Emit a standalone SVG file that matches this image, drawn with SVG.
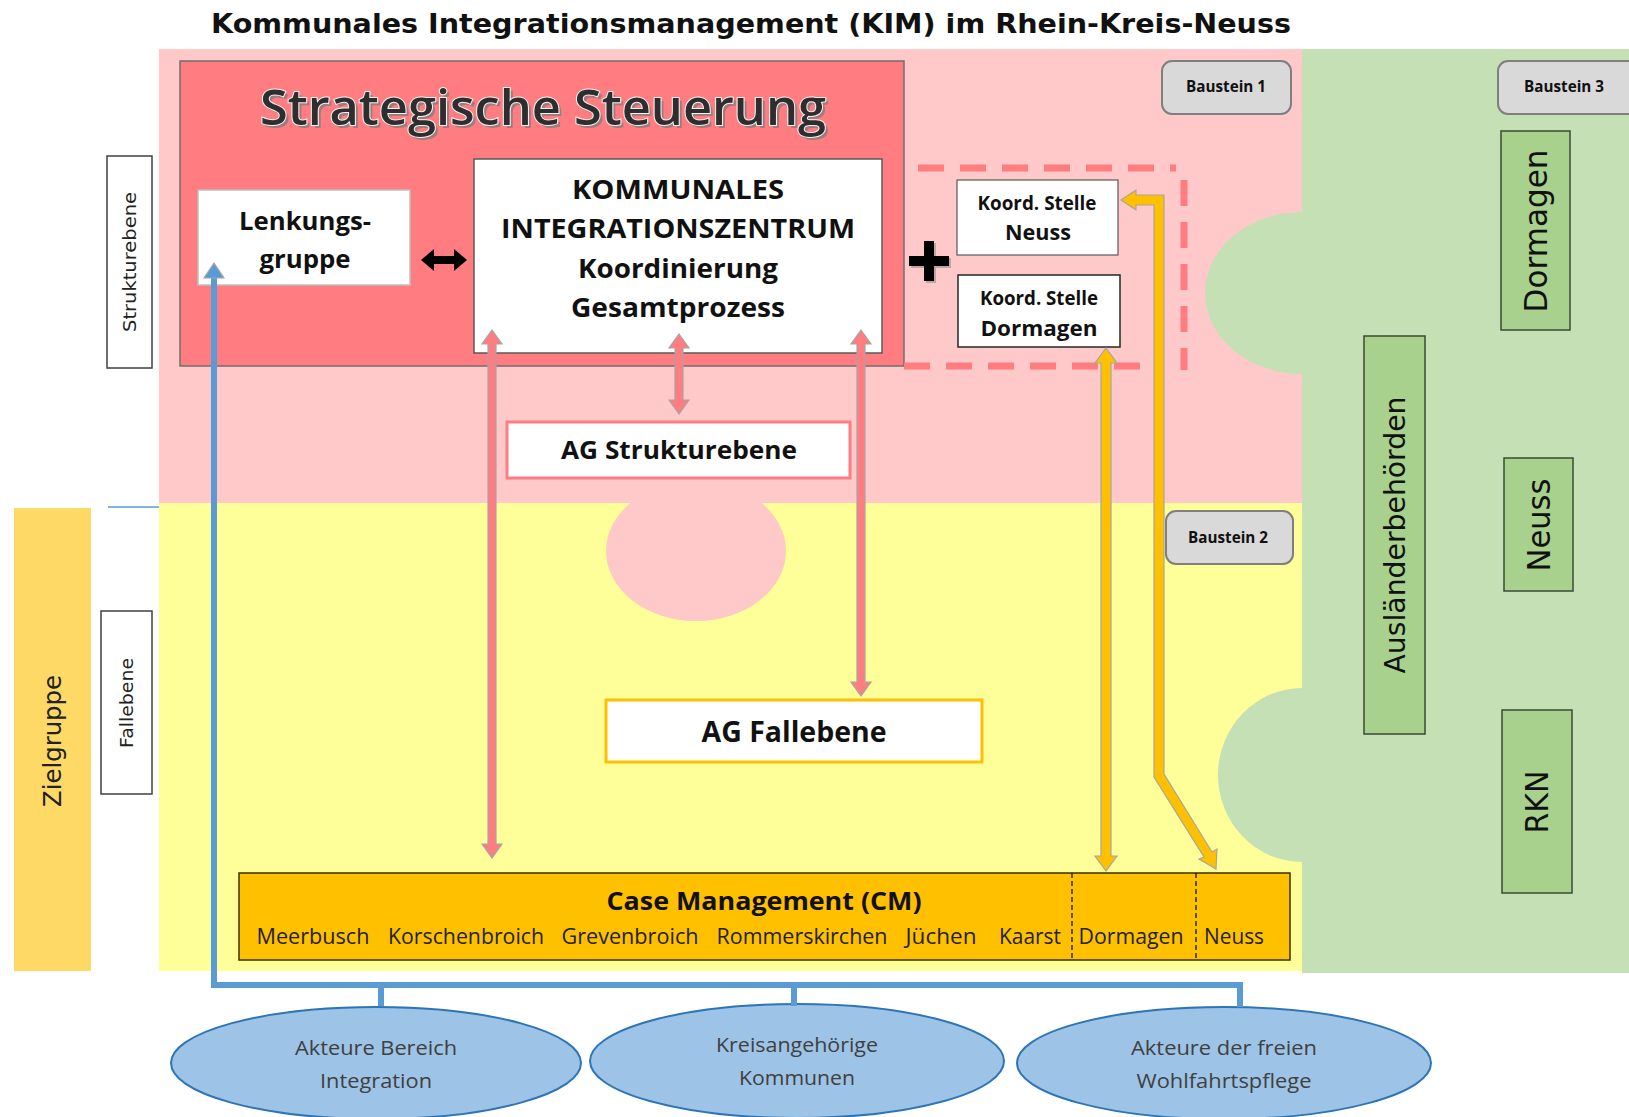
<svg xmlns="http://www.w3.org/2000/svg" width="1629" height="1117" viewBox="0 0 1629 1117">
  <style>
    .sans { font-family: "Open Sans", "Noto Sans", "Liberation Sans", sans-serif; }
    .verd { font-family: "DejaVu Sans", "Liberation Sans", sans-serif; }
    .bold { font-weight: 700; }
    .dark { fill: #111; }
    .baustein rect { fill: #d9d9d9; stroke: #7f7f7f; stroke-width: 2; }
    .baustein text { font-family: "Open Sans", "Noto Sans", sans-serif; font-weight: 700; font-size: 16px; fill: #111; }
    .gbox rect { fill: #a9d18e; stroke: #3b4a33; stroke-width: 1.5; }
    .gbox text { font-family: "DejaVu Sans", sans-serif; fill: #111; }
    .pinkarrow { fill: #ff7c80; stroke: #a6a6a6; stroke-width: 1.2; }
    .yellowarrow { fill: #ffc000; stroke: #a6a6a6; stroke-width: 1.2; }
    .actor ellipse { fill: #9dc3e6; stroke: #2e75b6; stroke-width: 2; }
    .actor text { font-family: "Open Sans", "Noto Sans", sans-serif; font-size: 20px; fill: #404040; }
    .town { font-family: "Open Sans", "Noto Sans", sans-serif; font-size: 21px; fill: #222; }
  </style>

  <rect width="1629" height="1117" fill="#ffffff"/>

  <!-- Title -->
  <text x="751" y="33" text-anchor="middle" class="verd bold dark" font-size="27" textLength="1080" lengthAdjust="spacingAndGlyphs">Kommunales Integrationsmanagement (KIM) im Rhein-Kreis-Neuss</text>

  <!-- Background bands: Baustein 1 (pink), Baustein 2 (yellow), Baustein 3 (green) -->
  <g id="bands">
    <rect x="159" y="49" width="1143" height="455" fill="#ffc9c9"/>
    <rect x="159" y="503" width="1143" height="468" fill="#ffff99"/>
    <rect x="1302" y="49" width="327" height="924" fill="#c5e0b4"/>
    <ellipse cx="1302" cy="293" rx="97" ry="81" fill="#c5e0b4"/>
    <ellipse cx="1302" cy="775" rx="84" ry="87" fill="#c5e0b4"/>
    <ellipse cx="696" cy="551" rx="90" ry="70" fill="#ffc9c9"/>
    <line x1="108" y1="507" x2="159" y2="507" stroke="#5b9bd5" stroke-width="1.5"/>
  </g>

  <!-- Side labels -->
  <g id="strukturebene">
    <rect x="107" y="156" width="45" height="212" fill="#fff" stroke="#404040" stroke-width="1.5"/>
    <text transform="translate(129.5 262) rotate(-90)" y="6" text-anchor="middle" class="verd" font-size="18" fill="#222" textLength="140" lengthAdjust="spacingAndGlyphs">Strukturebene</text>
  </g>
  <g id="fallebene">
    <rect x="101" y="611" width="51" height="183" fill="#fff" stroke="#404040" stroke-width="1.5"/>
    <text transform="translate(126.5 703) rotate(-90)" y="6" text-anchor="middle" class="verd" font-size="18" fill="#222" textLength="90" lengthAdjust="spacingAndGlyphs">Fallebene</text>
  </g>
  <g id="zielgruppe">
    <rect x="14" y="508" width="77" height="463" fill="#ffd966"/>
    <text transform="translate(52.5 741) rotate(-90)" y="8" text-anchor="middle" class="verd" font-size="24" fill="#222" textLength="132" lengthAdjust="spacingAndGlyphs">Zielgruppe</text>
  </g>

  <!-- Strategische Steuerung -->
  <g id="strategische-steuerung">
    <rect x="180" y="61" width="724" height="305" fill="#ff7c80" stroke="#6f6f6f" stroke-width="1.5"/>
    <text x="546" y="128" text-anchor="middle" class="sans" font-size="48" font-weight="600" fill="#7a7a7a" opacity="0.7" textLength="566" lengthAdjust="spacingAndGlyphs">Strategische Steuerung</text>
    <text x="543" y="125" text-anchor="middle" class="sans" font-size="48" font-weight="600" fill="#2e2e2e" stroke="#f2f2f2" stroke-width="2" paint-order="stroke" textLength="566" lengthAdjust="spacingAndGlyphs">Strategische Steuerung</text>
  </g>

  <g id="lenkungsgruppe">
    <rect x="198" y="190" width="212" height="95" fill="#fff" stroke="#bfbfbf" stroke-width="1.5"/>
    <text x="305" y="230" text-anchor="middle" class="sans bold dark" font-size="25" textLength="132" lengthAdjust="spacingAndGlyphs">Lenkungs-</text>
    <text x="305" y="268" text-anchor="middle" class="sans bold dark" font-size="25" textLength="91" lengthAdjust="spacingAndGlyphs">gruppe</text>
  </g>

  <g id="integrationszentrum">
    <rect x="474" y="159" width="408" height="194" fill="#fff" stroke="#595959" stroke-width="1.5"/>
    <text x="678" y="199" text-anchor="middle" class="sans bold dark" font-size="27" textLength="212" lengthAdjust="spacingAndGlyphs">KOMMUNALES</text>
    <text x="678" y="238" text-anchor="middle" class="sans bold dark" font-size="27" textLength="354" lengthAdjust="spacingAndGlyphs">INTEGRATIONSZENTRUM</text>
    <text x="678" y="278" text-anchor="middle" class="sans bold dark" font-size="27" textLength="200" lengthAdjust="spacingAndGlyphs">Koordinierung</text>
    <text x="678" y="317" text-anchor="middle" class="sans bold dark" font-size="27" textLength="214" lengthAdjust="spacingAndGlyphs">Gesamtprozess</text>
  </g>

  <!-- Plus sign joining the coordination offices -->
  <g id="plus">
    <path d="M924 241 h10 v15 h15 v10 h-15 v15 h-10 v-15 h-15 v-10 h15 z" fill="#7f7f7f" opacity="0.5" transform="translate(2 2)"/>
    <path d="M924 241 h10 v15 h15 v10 h-15 v15 h-10 v-15 h-15 v-10 h15 z" fill="#000"/>
  </g>

  <!-- Dashed frame round the coordination offices -->
  <path id="koord-frame" d="M918 168 H1176 M1184 180 V370 M904 366 H1150" fill="none" stroke="#ff7c80" stroke-width="7" stroke-dasharray="26 16"/>

  <g id="koord-neuss">
    <rect x="957" y="180" width="161" height="75" fill="#fff" stroke="#595959" stroke-width="1.2"/>
    <text x="1037" y="210" text-anchor="middle" class="sans bold dark" font-size="19" textLength="119" lengthAdjust="spacingAndGlyphs">Koord. Stelle</text>
    <text x="1038" y="240" text-anchor="middle" class="sans bold dark" font-size="22" textLength="66" lengthAdjust="spacingAndGlyphs">Neuss</text>
  </g>
  <g id="koord-dormagen">
    <rect x="958" y="275" width="162" height="72" fill="#fff" stroke="#262626" stroke-width="1.5"/>
    <text x="1039" y="305" text-anchor="middle" class="sans bold dark" font-size="19" textLength="118" lengthAdjust="spacingAndGlyphs">Koord. Stelle</text>
    <text x="1039" y="336" text-anchor="middle" class="sans bold dark" font-size="22" textLength="117" lengthAdjust="spacingAndGlyphs">Dormagen</text>
  </g>

  <g id="baustein-1" class="baustein">
    <rect x="1162" y="61" width="129" height="53" rx="10"/>
    <text x="1226" y="92" text-anchor="middle" textLength="80" lengthAdjust="spacingAndGlyphs">Baustein 1</text>
  </g>
  <g id="baustein-2" class="baustein">
    <rect x="1166" y="511" width="127" height="53" rx="10"/>
    <text x="1228" y="543" text-anchor="middle" textLength="80" lengthAdjust="spacingAndGlyphs">Baustein 2</text>
  </g>
  <g id="baustein-3" class="baustein">
    <rect x="1498" y="61" width="140" height="53" rx="10"/>
    <text x="1564" y="92" text-anchor="middle" textLength="80" lengthAdjust="spacingAndGlyphs">Baustein 3</text>
  </g>

  <g id="ag-strukturebene">
    <rect x="507" y="422" width="343" height="56" fill="#fff" stroke="#ff7c80" stroke-width="3"/>
    <text x="679" y="459" text-anchor="middle" class="sans bold dark" font-size="25" textLength="236" lengthAdjust="spacingAndGlyphs">AG Strukturebene</text>
  </g>

  <g id="ag-fallebene">
    <rect x="606" y="700" width="376" height="62" fill="#fff" stroke="#ffc000" stroke-width="3"/>
    <text x="794" y="742" text-anchor="middle" class="sans bold dark" font-size="28" textLength="185" lengthAdjust="spacingAndGlyphs">AG Fallebene</text>
  </g>

  <g id="case-management">
    <rect x="239" y="873" width="1051" height="87" fill="#ffc000" stroke="#3a2f00" stroke-width="1.5"/>
    <line x1="1072" y1="873" x2="1072" y2="960" stroke="#111" stroke-width="1.3" stroke-dasharray="5 3"/>
    <line x1="1196" y1="873" x2="1196" y2="960" stroke="#111" stroke-width="1.3" stroke-dasharray="5 3"/>
    <text x="764" y="910" text-anchor="middle" class="sans bold dark" font-size="25" textLength="315" lengthAdjust="spacingAndGlyphs">Case Management (CM)</text>
    <text x="313" y="944" text-anchor="middle" class="town" textLength="113" lengthAdjust="spacingAndGlyphs">Meerbusch</text>
    <text x="466" y="944" text-anchor="middle" class="town" textLength="156" lengthAdjust="spacingAndGlyphs">Korschenbroich</text>
    <text x="630" y="944" text-anchor="middle" class="town" textLength="137" lengthAdjust="spacingAndGlyphs">Grevenbroich</text>
    <text x="802" y="944" text-anchor="middle" class="town" textLength="171" lengthAdjust="spacingAndGlyphs">Rommerskirchen</text>
    <text x="941" y="944" text-anchor="middle" class="town" textLength="71" lengthAdjust="spacingAndGlyphs">Jüchen</text>
    <text x="1030" y="944" text-anchor="middle" class="town" textLength="62" lengthAdjust="spacingAndGlyphs">Kaarst</text>
    <text x="1131" y="944" text-anchor="middle" class="town" textLength="105" lengthAdjust="spacingAndGlyphs">Dormagen</text>
    <text x="1234" y="944" text-anchor="middle" class="town" textLength="60" lengthAdjust="spacingAndGlyphs">Neuss</text>
  </g>

  <!-- Baustein 3: Ausländerbehörden -->
  <g id="auslaenderbehoerden" class="gbox">
    <rect x="1364" y="336" width="61" height="398"/>
    <text transform="translate(1395 535) rotate(-90)" y="10" text-anchor="middle" font-size="28" textLength="277" lengthAdjust="spacingAndGlyphs">Ausländerbehörden</text>
  </g>
  <g id="abh-dormagen" class="gbox">
    <rect x="1501" y="131" width="69" height="199"/>
    <text transform="translate(1536 231) rotate(-90)" y="11" text-anchor="middle" font-size="32" textLength="163" lengthAdjust="spacingAndGlyphs">Dormagen</text>
  </g>
  <g id="abh-neuss" class="gbox">
    <rect x="1504" y="458" width="69" height="133"/>
    <text transform="translate(1539 525) rotate(-90)" y="11" text-anchor="middle" font-size="32" textLength="93" lengthAdjust="spacingAndGlyphs">Neuss</text>
  </g>
  <g id="abh-rkn" class="gbox">
    <rect x="1502" y="710" width="70" height="183"/>
    <text transform="translate(1537 802) rotate(-90)" y="11" text-anchor="middle" font-size="32" textLength="63" lengthAdjust="spacingAndGlyphs">RKN</text>
  </g>

  <!-- Actor groups -->
  <g id="akteure-integration" class="actor">
    <ellipse cx="376" cy="1063" rx="205" ry="56"/>
    <text x="376" y="1055" text-anchor="middle" textLength="162" lengthAdjust="spacingAndGlyphs">Akteure Bereich</text>
    <text x="376" y="1088" text-anchor="middle" textLength="112" lengthAdjust="spacingAndGlyphs">Integration</text>
  </g>
  <g id="kreisangehoerige-kommunen" class="actor">
    <ellipse cx="797" cy="1061" rx="207" ry="57"/>
    <text x="797" y="1052" text-anchor="middle" textLength="162" lengthAdjust="spacingAndGlyphs">Kreisangehörige</text>
    <text x="797" y="1085" text-anchor="middle" textLength="116" lengthAdjust="spacingAndGlyphs">Kommunen</text>
  </g>
  <g id="akteure-wohlfahrtspflege" class="actor">
    <ellipse cx="1224" cy="1063" rx="207" ry="56"/>
    <text x="1224" y="1055" text-anchor="middle" textLength="186" lengthAdjust="spacingAndGlyphs">Akteure der freien</text>
    <text x="1224" y="1088" text-anchor="middle" textLength="175" lengthAdjust="spacingAndGlyphs">Wohlfahrtspflege</text>
  </g>

  <!-- Connectors -->
  <g id="connectors">
    <!-- Lenkungsgruppe <-> Integrationszentrum -->
    <polygon points="421,260 434,249 434,256 454,256 454,249 467,260 454,271 454,264 434,264 434,271" fill="#000"/>

    <!-- Pink double arrows from the Integrationszentrum -->
    <polygon class="pinkarrow" points="492,330 502,344 496,344 496,844 502,844 492,858 482,844 488,844 488,344 482,344"/>
    <polygon class="pinkarrow" points="679,334 689,348 683,348 683,400 689,400 679,414 669,400 675,400 675,348 669,348"/>
    <polygon class="pinkarrow" points="861,330 871,344 865,344 865,682 871,682 861,696 851,682 857,682 857,344 851,344"/>

    <!-- Yellow arrows between Koord. Stellen and Case Management -->
    <polygon class="yellowarrow" points="1106,348 1117,363 1111,363 1111,856 1117,856 1106,871 1095,856 1101,856 1101,363 1095,363"/>
    <polygon class="yellowarrow" points="1121,200 1136,190 1136,195 1164,195 1164,774 1212,852 1217,849 1216,869 1199,859 1204,857 1154,777 1154,205 1136,205 1136,210"/>

    <!-- Blue feed from the actor groups up to the Lenkungsgruppe -->
    <polyline points="381,1006 381,985 214,985 214,276" fill="none" stroke="#5b9bd5" stroke-width="6"/>
    <polyline points="214,985 1240,985 1240,1007" fill="none" stroke="#5b9bd5" stroke-width="6"/>
    <line x1="794" y1="985" x2="794" y2="1006" stroke="#5b9bd5" stroke-width="6"/>
    <polygon points="214,263 224,278 204,278" fill="#5b9bd5" stroke="#a6a6a6" stroke-width="1.2"/>
  </g>
</svg>
